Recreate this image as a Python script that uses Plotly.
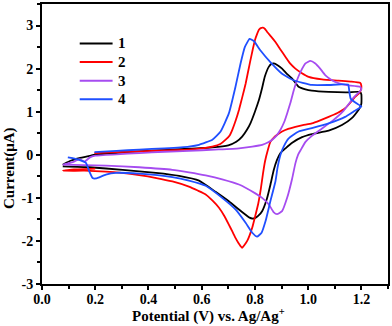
import plotly.graph_objects as go

# Cyclic voltammograms, potential (V vs. Ag/Ag+) and current (uA) along each scan
labels = ["1", "2", "3", "4"]
colors = ["#000000", "#ff0000", "#a64cf0", "#1f4fff"]

e1 = [0.078, 0.103, 0.14, 0.184, 0.203, 0.30, 0.365, 0.45, 0.552, 0.64, 0.70, 0.73, 0.752, 0.77, 0.783,
      0.80, 0.815, 0.827, 0.837, 0.852, 0.862, 0.871, 0.885, 0.902, 0.92, 0.94, 0.964, 0.99, 1.014, 1.077,
      1.15, 1.195, 1.2, 1.2, 1.195, 1.189, 1.164, 1.127, 1.077, 1.014, 0.977, 0.94, 0.915, 0.896, 0.883,
      0.871, 0.858, 0.845, 0.827, 0.812, 0.80, 0.79, 0.78, 0.771, 0.74, 0.702, 0.652, 0.59, 0.515, 0.428,
      0.303, 0.178, 0.078]
i1 = [-0.23, -0.15, -0.08, -0.02, 0.01, 0.05, 0.08, 0.11, 0.14, 0.17, 0.22, 0.30, 0.42, 0.58, 0.73,
      1.0, 1.27, 1.55, 1.81, 2.04, 2.11, 2.12, 2.08, 2.0, 1.88, 1.77, 1.58, 1.52, 1.49, 1.46,
      1.45, 1.46, 1.40, 1.19, 1.10, 1.04, 0.85, 0.69, 0.56, 0.48, 0.41, 0.28, 0.15, 0.04, -0.12,
      -0.35, -0.70, -1.02, -1.31, -1.42, -1.47, -1.48, -1.46, -1.42, -1.27, -1.08, -0.86, -0.60, -0.49, -0.42,
      -0.35, -0.29, -0.27]

e2 = [0.197, 0.28, 0.365, 0.46, 0.552, 0.60, 0.64, 0.67, 0.69, 0.705, 0.715, 0.728, 0.74, 0.753, 0.765,
      0.775, 0.783, 0.792, 0.80, 0.808, 0.815, 0.822, 0.83, 0.838, 0.846, 0.86, 0.877, 0.895, 0.915, 0.932,
      0.952, 0.975, 1.002, 1.052, 1.114, 1.16, 1.195, 1.2, 1.198, 1.19, 1.177, 1.16, 1.139, 1.11, 1.077,
      1.045, 1.014, 0.98, 0.952, 0.925, 0.902, 0.885, 0.871, 0.858, 0.848, 0.838, 0.83, 0.822, 0.812, 0.80,
      0.79, 0.78, 0.771, 0.76, 0.752, 0.746, 0.738, 0.727, 0.715, 0.702, 0.685, 0.665, 0.64, 0.615, 0.585,
      0.552, 0.49, 0.43, 0.365, 0.30, 0.24, 0.16, 0.078, 0.12, 0.2]
i2 = [0.04, 0.06, 0.08, 0.10, 0.12, 0.15, 0.19, 0.25, 0.35, 0.45, 0.58, 0.80, 1.04, 1.35, 1.65,
      1.95, 2.19, 2.45, 2.66, 2.80, 2.90, 2.94, 2.95, 2.92, 2.85, 2.75, 2.62, 2.45, 2.27, 2.12,
      2.0, 1.90, 1.81, 1.75, 1.72, 1.70, 1.67, 1.60, 1.50, 1.42, 1.35, 1.22, 1.08, 0.97, 0.88,
      0.80, 0.73, 0.69, 0.65, 0.60, 0.54, 0.47, 0.40, 0.30, 0.10, -0.15, -0.45, -0.80, -1.15, -1.45,
      -1.69, -1.87, -2.0, -2.10, -2.16, -2.12, -2.05, -1.93, -1.78, -1.62, -1.42, -1.23, -1.06, -0.92, -0.83,
      -0.74, -0.62, -0.54, -0.47, -0.42, -0.39, -0.37, -0.37, -0.34, -0.32]

e3 = [0.078, 0.12, 0.14, 0.16, 0.18, 0.2, 0.28, 0.365, 0.46, 0.552, 0.65, 0.74, 0.79, 0.827, 0.85,
      0.865, 0.882, 0.896, 0.91, 0.921, 0.934, 0.946, 0.958, 0.971, 0.99, 1.008, 1.027, 1.045, 1.064, 1.085,
      1.102, 1.139, 1.195, 1.2, 1.17, 1.13, 1.09, 1.05, 1.014, 0.99, 0.971, 0.962, 0.952, 0.94, 0.921,
      0.902, 0.883, 0.87, 0.852, 0.827, 0.80, 0.74, 0.677, 0.615, 0.552, 0.49, 0.365, 0.24, 0.078]
i3 = [-0.24, -0.16, -0.10, -0.16, -0.06, -0.02, 0.01, 0.04, 0.07, 0.09, 0.12, 0.15, 0.19, 0.23, 0.29,
      0.35, 0.45, 0.58, 0.76, 0.96, 1.22, 1.50, 1.73, 1.92, 2.12, 2.18, 2.12, 2.0, 1.85, 1.75,
      1.69, 1.62, 1.58, 1.52, 1.32, 1.0, 0.78, 0.60, 0.44, 0.30, 0.10, 0.0, -0.2, -0.55, -1.0,
      -1.31, -1.38, -1.33, -1.15, -1.0, -0.89, -0.69, -0.57, -0.48, -0.41, -0.35, -0.29, -0.25, -0.23]

e4 = [0.197, 0.28, 0.365, 0.46, 0.552, 0.59, 0.64, 0.671, 0.702, 0.727, 0.746, 0.762, 0.78, 0.796, 0.821,
      0.858, 0.902, 0.946, 1.014, 1.08, 1.15, 1.155, 1.16, 1.18, 1.2, 1.17, 1.139, 1.077, 1.014, 0.964,
      0.927, 0.908, 0.896, 0.885, 0.877, 0.858, 0.84, 0.825, 0.808, 0.79, 0.765, 0.727, 0.677, 0.615, 0.552,
      0.49, 0.365, 0.278, 0.24, 0.203, 0.19, 0.178, 0.165, 0.14, 0.115, 0.097]
i4 = [0.06, 0.09, 0.12, 0.15, 0.19, 0.23, 0.35, 0.54, 0.96, 1.58, 2.12, 2.50, 2.69, 2.64, 2.42,
      2.15, 1.88, 1.73, 1.62, 1.62, 1.63, 1.45, 1.30, 1.20, 1.12, 1.0, 0.88, 0.73, 0.62, 0.54,
      0.38, 0.19, 0.0, -0.3, -0.62, -1.08, -1.54, -1.81, -1.90, -1.81, -1.58, -1.27, -1.0, -0.72, -0.60,
      -0.52, -0.44, -0.42, -0.46, -0.55, -0.54, -0.39, -0.19, -0.12, -0.08, -0.06]

x_ticks = [0.0, 0.2, 0.4, 0.6, 0.8, 1.0, 1.2]
x_ticktext = ["0.0", "0.2", "0.4", "0.6", "0.8", "1.0", "1.2"]
y_ticks = [-3, -2, -1, 0, 1, 2, 3]
y_ticktext = ["-3", "-2", "-1", "0", "1", "2", "3"]

FONT = "Liberation Serif, Times New Roman, serif"
LINE_W = 1.8

fig = go.Figure()
for lab, col, xs, ys in zip(labels, colors, [e1, e2, e3, e4], [i1, i2, i3, i4]):
    fig.add_trace(go.Scatter(x=xs, y=ys, mode="lines", name=lab, showlegend=False,
                             line=dict(color=col, width=LINE_W, shape="spline", smoothing=0.4)))

axis_common = dict(
    showline=True, linecolor="black", linewidth=2, mirror=True,
    ticks="outside", ticklen=4, tickwidth=1.5, tickcolor="black",
    showgrid=False, zeroline=False,
    tickfont=dict(family=FONT, size=14, color="black", weight="bold"),
)

# Key: short line samples with the series numbers beside them, stacked top-left
key_x0, key_x1, key_text_x = 0.109, 0.204, 0.214
key_y_top, key_step = 0.859, 0.0665
shapes = []
annotations = []
for k, (lab, col) in enumerate(zip(labels, colors)):
    yk = key_y_top - k * key_step
    shapes.append(dict(type="line", xref="paper", yref="paper", x0=key_x0, x1=key_x1, y0=yk, y1=yk,
                       line=dict(color=col, width=2)))
    annotations.append(dict(text=lab, xref="paper", yref="paper", x=key_text_x, y=yk,
                            xanchor="left", yanchor="middle", showarrow=False,
                            font=dict(family=FONT, size=15, color="black", weight="bold")))

annotations += [
    dict(text="Potential (V) vs. Ag/Ag<sup>+</sup>", xref="paper", yref="paper",
         x=0.48, y=-0.112, xanchor="center", yanchor="middle", showarrow=False,
         font=dict(family=FONT, size=15, color="black", weight="bold")),
    dict(text="Current(μA)", xref="paper", yref="paper", textangle=-90,
         x=-0.092, y=0.415, xanchor="center", yanchor="middle", showarrow=False,
         font=dict(family=FONT, size=15, color="black", weight="bold")),
]

fig.update_layout(
    width=392, height=326,
    margin=dict(l=42, r=2, t=2, b=42),
    paper_bgcolor="white", plot_bgcolor="white",
    xaxis=dict(range=[0, 1.3], tickvals=x_ticks, ticktext=x_ticktext, ticklabelstandoff=-3,
               minor=dict(ticks="outside", ticklen=3, tickwidth=1.5, dtick=0.1, tick0=0, tickcolor="black"),
               **axis_common),
    yaxis=dict(range=[-3, 3.5], tickvals=y_ticks, ticktext=y_ticktext,
               minor=dict(ticks="outside", ticklen=3, tickwidth=1.5, dtick=0.5, tick0=0, tickcolor="black"),
               **axis_common),
    showlegend=False,
    shapes=shapes,
    annotations=annotations,
)

fig.write_html("out.html")
